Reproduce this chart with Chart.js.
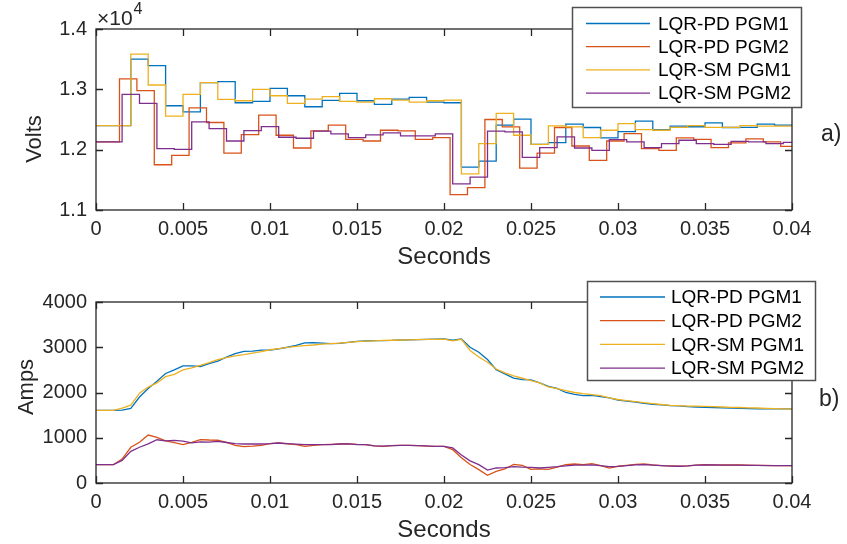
<!DOCTYPE html>
<html>
<head>
<meta charset="utf-8">
<script src="https://cdn.jsdelivr.net/npm/chart.js@4.4.1/dist/chart.umd.min.js"></script>
<style>
  html, body { margin: 0; padding: 0; background: #fff; }
  #wrap { position: relative; width: 847px; height: 544px; }
  .panel { position: absolute; left: 0; width: 847px; height: 272px; }
  #voltsPanel { top: 0; }
  #ampsPanel { top: 272px; }
</style>
</head>
<body>
<div id="wrap">
  <div class="panel" id="voltsPanel"><canvas id="voltsChart" width="847" height="272"></canvas></div>
  <div class="panel" id="ampsPanel"><canvas id="ampsChart" width="847" height="272"></canvas></div>
</div>
<script>
// ===============================
// DATA
// ===============================

const seriesNames = ["LQR-PD PGM1", "LQR-PD PGM2", "LQR-SM PGM1", "LQR-SM PGM2"];
const seriesColors = ["#0072BD", "#D95319", "#EDB120", "#7E2F8E"];

const timeTicks = [0, 0.005, 0.01, 0.015, 0.02, 0.025, 0.03, 0.035, 0.04];
const timeTickLabels = ["0", "0.005", "0.01", "0.015", "0.02", "0.025", "0.03", "0.035", "0.04"];
const voltTicks = [11000, 12000, 13000, 14000];
const voltTickLabels = ["1.1", "1.2", "1.3", "1.4"];
const ampTicks = [0, 1000, 2000, 3000, 4000];
const ampTickLabels = ["0", "1000", "2000", "3000", "4000"];

// voltage is held for one sample period (1 ms); PGM2 samples lag a little
const stepPeriod = 0.001;
const endTime = 0.04;
const pd2Shift = 0.00035;
const sm2Shift = 0.0005;

const voltsPd1 = [12400, 12400, 13500, 13394, 12728, 12628, 13111, 13128, 12778, 12800,
                  13017, 12894, 12711, 12817, 12933, 12811, 12750, 12839, 12867, 12789,
                  12778, 11711, 11811, 12406, 12506, 12089, 12117, 12422, 12367, 12194,
                  12300, 12472, 12333, 12390, 12380, 12444, 12367, 12370, 12422, 12406];
const voltsPd2 = [12128, 13172, 12978, 11750, 11906, 12694, 12450, 11944, 12250, 12572,
                  12239, 12028, 12311, 12406, 12172, 12144, 12322, 12311, 12172, 12200,
                  11256, 11372, 12500, 12378, 11694, 11944, 12367, 12061, 11822, 12144,
                  12267, 12017, 11989, 12194, 12172, 12033, 12111, 12178, 12128, 12056];
const voltsSm1 = [12400, 12400, 13583, 13072, 12556, 12917, 13111, 12833, 12811, 13000,
                  12894, 12767, 12839, 12878, 12800, 12789, 12844, 12822, 12789, 12811,
                  12822, 11600, 12100, 12600, 12239, 12089, 12394, 12378, 12200, 12322,
                  12433, 12333, 12322, 12370, 12400, 12370, 12370, 12400, 12390, 12390];
const voltsSm2 = [12128, 12917, 12767, 12017, 12006, 12461, 12350, 12144, 12317, 12383,
                  12206, 12189, 12306, 12261, 12200, 12244, 12278, 12228, 12228, 12261,
                  11433, 11544, 12306, 12294, 11872, 12033, 12211, 12028, 11989, 12167,
                  12128, 12033, 12100, 12156, 12100, 12089, 12139, 12128, 12100, 12122];

// current sampled every 0.5 ms
const ampStep = 0.0005;
const ampsPd1 = [1607, 1607, 1607, 1612, 1650, 1900, 2090, 2248, 2420, 2500,
                 2590, 2590, 2575, 2640, 2695, 2780, 2860, 2910, 2915, 2935,
                 2935, 2965, 3000, 3040, 3095, 3100, 3090, 3080, 3085, 3110,
                 3132, 3138, 3145, 3147, 3150, 3160, 3165, 3170, 3175, 3180,
                 3184, 3155, 3185, 3000, 2889, 2730, 2506, 2410, 2320, 2285,
                 2280, 2211, 2137, 2090, 2000, 1960, 1931, 1935, 1910, 1880,
                 1830, 1810, 1790, 1760, 1740, 1725, 1712, 1705, 1690, 1680,
                 1673, 1668, 1662, 1658, 1650, 1642, 1636, 1636, 1636, 1638,
                 1640];
const ampsPd2 = [405, 405, 405, 530, 790, 900, 1060, 1010, 930, 890,
                 850, 900, 960, 950, 945, 900, 830, 805, 815, 833,
                 870, 884, 865, 850, 811, 830, 848, 855, 862, 868,
                 855, 848, 820, 811, 825, 833, 833, 825, 815, 811,
                 811, 737, 560, 410, 295, 170, 258, 310, 410, 390,
                 300, 310, 300, 350, 405, 420, 405, 427, 383, 330,
                 370, 390, 410, 420, 400, 385, 380, 370, 380, 395,
                 405, 400, 398, 398, 400, 395, 390, 388, 385, 383,
                 383];
const ampsSm1 = [1607, 1607, 1607, 1655, 1720, 1985, 2120, 2211, 2350, 2400,
                 2500, 2545, 2600, 2660, 2727, 2770, 2810, 2837, 2870, 2905,
                 2945, 2970, 2995, 3018, 3035, 3050, 3070, 3080, 3093, 3110,
                 3125, 3135, 3143, 3150, 3155, 3160, 3165, 3170, 3173, 3176,
                 3180, 3140, 3175, 2930, 2786, 2670, 2520, 2432, 2365, 2315,
                 2260, 2211, 2122, 2085, 2040, 2000, 1975, 1955, 1930, 1880,
                 1845, 1820, 1800, 1775, 1755, 1735, 1715, 1708, 1700, 1697,
                 1695, 1690, 1680, 1673, 1668, 1662, 1658, 1650, 1645, 1640,
                 1636];
const ampsSm2 = [405, 405, 405, 500, 700, 790, 865, 955, 930, 940,
                 925, 885, 910, 905, 920, 895, 870, 862, 862, 862,
                 868, 884, 870, 860, 848, 848, 848, 848, 862, 865,
                 850, 848, 820, 815, 828, 833, 833, 828, 820, 811,
                 811, 774, 620, 490, 405, 285, 332, 340, 360, 350,
                 345, 332, 345, 360, 380, 395, 395, 400, 383, 360,
                 369, 385, 400, 405, 395, 385, 375, 370, 380, 395,
                 400, 398, 395, 393, 393, 390, 388, 386, 385, 383,
                 383];

// ===============================
// HELPERS
// ===============================

const FONT = "'Liberation Sans', Arial, Helvetica, sans-serif";
const INK = "#262626";

// stairs(): one point per sample, value held until the next sample
function stairs(values, shift) {
    const pts = [{ x: 0, y: values[0] }];
    for (let k = 1; k < values.length; k++) {
        pts.push({ x: k * stepPeriod + shift, y: values[k] });
    }
    pts.push({ x: endTime, y: values[values.length - 1] });
    return pts;
}

function sampled(values) {
    return values.map((v, i) => ({ x: i * ampStep, y: v }));
}

function makeDataset(i, data, stepped) {
    return {
        label: seriesNames[i],
        data: data,
        borderColor: seriesColors[i],
        borderWidth: 1.3,
        pointRadius: 0,
        stepped: stepped,
        tension: 0,
        order: 3 - i  // later series on top
    };
}

// axes box, inward ticks, labels and legend in MATLAB style
const matlabAxes = {
    id: "matlabAxes",
    afterDraw(chart, args, opts) {
        const { ctx, chartArea: a, scales } = chart;
        const tickLen = 7;
        ctx.save();

        ctx.strokeStyle = INK;
        ctx.lineWidth = 1.3;
        ctx.strokeRect(a.left, a.top, a.right - a.left, a.bottom - a.top);
        ctx.beginPath();
        scales.x.ticks.forEach(t => {
            const px = Math.round(scales.x.getPixelForValue(t.value)) + 0.5;
            ctx.moveTo(px, a.bottom); ctx.lineTo(px, a.bottom - tickLen);
            ctx.moveTo(px, a.top); ctx.lineTo(px, a.top + tickLen);
        });
        scales.y.ticks.forEach(t => {
            const py = Math.round(scales.y.getPixelForValue(t.value)) + 0.5;
            ctx.moveTo(a.left, py); ctx.lineTo(a.left + tickLen, py);
            ctx.moveTo(a.right, py); ctx.lineTo(a.right - tickLen, py);
        });
        ctx.stroke();

        ctx.fillStyle = INK;
        ctx.textBaseline = "middle";

        // axis titles
        ctx.font = "24px " + FONT;
        ctx.textAlign = "center";
        ctx.fillText(opts.xTitle, (a.left + a.right) / 2, opts.xTitleY);
        ctx.font = "22px " + FONT;
        ctx.save();
        ctx.translate(opts.yTitleX, opts.yTitleY);
        ctx.rotate(-Math.PI / 2);
        ctx.fillText(opts.yTitle, 0, 0);
        ctx.restore();

        // panel tag
        ctx.font = "23px " + FONT;
        ctx.textAlign = "left";
        ctx.fillText(opts.tag, opts.tagX, opts.tagY);

        // exponent
        if (opts.exponent) {
            ctx.textBaseline = "alphabetic";
            ctx.font = "21px " + FONT;
            ctx.fillText("\u00d710", 97, 25);
            const w = ctx.measureText("\u00d710").width;
            ctx.font = "16px " + FONT;
            ctx.fillText(opts.exponent, 97 + w + 1, 14);
        }

        // legend
        const L = opts.legend;
        ctx.fillStyle = "#fff";
        ctx.fillRect(L.left, L.top, L.width, L.height);
        ctx.strokeStyle = "#505050";
        ctx.lineWidth = 1.5;
        ctx.strokeRect(L.left, L.top, L.width, L.height);
        ctx.font = "19px " + FONT;
        ctx.textBaseline = "middle";
        ctx.textAlign = "left";
        chart.data.datasets.forEach((ds, i) => {
            const y = L.firstRow + i * L.rowGap;
            ctx.strokeStyle = ds.borderColor;
            ctx.lineWidth = 1.3;
            ctx.beginPath();
            ctx.moveTo(L.lineFrom, y);
            ctx.lineTo(L.lineTo, y);
            ctx.stroke();
            ctx.fillStyle = "#000";
            ctx.fillText(ds.label, L.textX, y + 1);
        });

        ctx.restore();
    }
};

function axisOptions(ticks, labels, min, max, isX, size) {
    return {
        type: "linear",
        min: min,
        max: max,
        grid: { display: false, drawTicks: false },
        border: { display: false },
        afterBuildTicks: s => { s.ticks = ticks.map(v => ({ value: v })); },
        afterFit: s => { if (isX) s.height = size; else s.width = size; },
        ticks: {
            color: INK,
            font: { family: FONT, size: 20 },
            padding: isX ? 7 : 9,
            maxRotation: 0,
            autoSkip: false,
            callback: v => labels[ticks.indexOf(v)]
        }
    };
}

function makeChart(canvasId, datasets, yTicks, yLabels, yMin, yMax, padTop, xHeight, extra) {
    return new Chart(document.getElementById(canvasId), {
        type: "line",
        data: { datasets: datasets },
        options: {
            responsive: false,
            animation: false,
            parsing: false,
            layout: { padding: { top: padTop, right: 55, left: 0, bottom: 0 } },
            scales: {
                x: axisOptions(timeTicks, timeTickLabels, 0, endTime, true, xHeight),
                y: axisOptions(yTicks, yLabels, yMin, yMax, false, 96)
            },
            plugins: {
                legend: { display: false },
                tooltip: { enabled: false },
                matlabAxes: extra
            }
        },
        plugins: [matlabAxes]
    });
}

// ===============================
// CHARTS
// ===============================

let voltsChart, ampsChart;

document.addEventListener("DOMContentLoaded", () => {
    voltsChart = makeChart("voltsChart", [
        makeDataset(0, stairs(voltsPd1, 0), true),
        makeDataset(1, stairs(voltsPd2, pd2Shift), true),
        makeDataset(2, stairs(voltsSm1, 0), true),
        makeDataset(3, stairs(voltsSm2, sm2Shift), true)
    ], voltTicks, voltTickLabels, 11000, 14000, 29, 62, {
        xTitle: "Seconds", xTitleY: 257,
        yTitle: "Volts", yTitleX: 35, yTitleY: 139,
        tag: "a)", tagX: 821, tagY: 135,
        exponent: "4",
        legend: { left: 572.5, top: 7.5, width: 229, height: 100,
                  lineFrom: 586, lineTo: 650, textX: 658, firstRow: 23.5, rowGap: 23.2 }
    });

    ampsChart = makeChart("ampsChart", [
        makeDataset(0, sampled(ampsPd1), false),
        makeDataset(1, sampled(ampsPd2), false),
        makeDataset(2, sampled(ampsSm1), false),
        makeDataset(3, sampled(ampsSm2), false)
    ], ampTicks, ampTickLabels, 0, 4000, 30, 61, {
        xTitle: "Seconds", xTitleY: 258,
        yTitle: "Amps", yTitleX: 27, yTitleY: 115,
        tag: "b)", tagX: 819, tagY: 128,
        exponent: null,
        legend: { left: 587.5, top: 9.5, width: 228, height: 99,
                  lineFrom: 600, lineTo: 665, textX: 671, firstRow: 25, rowGap: 23.7 }
    });
});
</script>
</body>
</html>
